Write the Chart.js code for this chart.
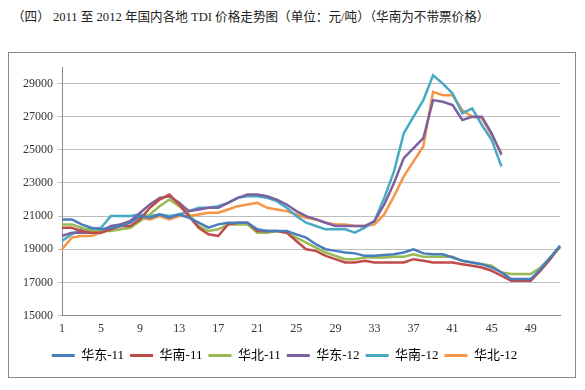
<!DOCTYPE html>
<html>
<head>
<meta charset="utf-8">
<script src="https://cdn.jsdelivr.net/npm/chart.js@4.4.1/dist/chart.umd.min.js"></script>
<style>
body{margin:0;background:#fff;width:585px;height:390px;position:relative;overflow:hidden;}
#title{position:absolute;left:12px;top:6px;font:12.6px 'Liberation Serif','Noto Sans CJK SC';color:#222;white-space:nowrap;}
#box{position:absolute;left:8px;top:52px;width:568px;height:326px;border:1px solid #8a8a8a;box-sizing:border-box;}
</style>
</head>
<body>
<div id="title">（四） 2011 至 2012 年国内各地 TDI 价格走势图（单位：元/吨）（华南为不带票价格）</div>
<div id="box"><canvas id="tdi" width="566" height="324"></canvas></div>
<script>
// 周次
const weeks = ['1','2','3','4','5','6','7','8','9','10','11','12','13','14','15','16','17','18','19','20',
  '21','22','23','24','25','26','27','28','29','30','31','32','33','34','35','36','37','38','39','40',
  '41','42','43','44','45','46','47','48','49','50','51','52'];
const yTicks = [15000, 17000, 19000, 21000, 23000, 25000, 27000, 29000];

// 2011
const east11 = [20800,20800,20500,20300,20200,20300,20400,20600,21000,20900,21100,20900,21100,20900,20600,20300,20500,20600,20600,20600,
  20200,20100,20100,20100,19900,19700,19300,19000,18900,18800,18750,18600,18600,18650,18700,18800,19000,18750,18700,18700,
  18500,18300,18200,18100,17900,17600,17200,17200,17200,17800,18500,19200];
const south11 = [20300,20300,20100,20000,20000,20200,20400,20400,20800,21500,22000,22300,21700,21000,20300,19900,19800,20500,20600,20600,
  20100,20100,20100,20000,19500,19000,18900,18600,18400,18200,18200,18300,18200,18200,18200,18200,18400,18300,18200,18200,
  18200,18100,18000,17900,17700,17400,17100,17100,17100,17700,18400,19200];
const north11 = [20500,20500,20300,20100,20100,20100,20200,20300,20700,21100,21600,22000,21600,21100,20400,20100,20200,20500,20500,20500,
  20000,20000,20100,20000,19700,19400,19100,18800,18600,18400,18400,18500,18500,18500,18550,18550,18700,18550,18550,18550,
  18550,18300,18200,18100,18000,17600,17500,17500,17500,17900,18500,19100];
// 2012
const east12 = [19800,20000,20000,20000,20100,20400,20500,20700,21200,21700,22100,22200,21800,21300,21400,21500,21500,21800,22100,22300,
  22300,22200,22000,21700,21300,21000,20800,20600,20400,20400,20400,20400,20700,21700,23000,24500,25100,25700,28000,27900,
  27700,26800,27000,27000,26000,24700];
const south12 = [19500,19900,20200,20200,20300,21000,21000,21000,21100,21000,21100,21000,21100,21300,21500,21500,21600,21800,22100,22200,
  22200,22100,21900,21500,21000,20600,20400,20200,20200,20200,20000,20300,20700,22100,23700,26000,27000,28000,29500,29000,
  28400,27200,27500,26500,25600,24000];
const north12 = [19000,19700,19800,19800,20000,20300,20500,20700,20900,20800,21000,20800,21000,21000,21100,21200,21200,21400,21600,21700,
  21800,21500,21400,21300,21100,20900,20800,20600,20500,20500,20400,20400,20500,21100,22200,23400,24300,25200,28500,28300,
  28300,27400,27000,26900,25900,24800];

const serif = "'Liberation Serif','Noto Sans CJK SC'";

function line(label, data, color) {
  return { label: label, data: data, borderColor: color, backgroundColor: color,
    borderWidth: 2.5, pointRadius: 0, tension: 0, fill: false };
}

const ctx = document.getElementById('tdi').getContext('2d');
const tdiChart = new Chart(ctx, {
  type: 'line',
  data: {
    labels: weeks,
    datasets: [
      line('华东-11', east11, '#4A7EBB'),
      line('华南-11', south11, '#BE4B48'),
      line('华北-11', north11, '#98B954'),
      line('华东-12', east12, '#7D60A0'),
      line('华南-12', south12, '#46AAC5'),
      line('华北-12', north12, '#F69544')
    ]
  },
  options: {
    responsive: false,
    animation: false,
    layout: { padding: { left: 0, top: 14, right: 15, bottom: 5 } },
    plugins: {
      tooltip: { enabled: false },
      legend: {
        position: 'bottom',
        labels: {
          boxWidth: 23, boxHeight: 3, padding: 6,
          font: { family: serif, size: 13 }, color: '#333',
          generateLabels: chart => chart.data.datasets.map((ds, i) => ({
            text: ds.label, fillStyle: ds.borderColor, strokeStyle: ds.borderColor,
            lineWidth: 0, datasetIndex: i, hidden: false
          }))
        }
      }
    },
    scales: {
      x: {
        afterFit: s => { s.height = 27.5; },
        grid: { drawOnChartArea: false, drawTicks: false },
        border: { color: '#8a8a8a' },
        ticks: {
          autoSkip: false, maxRotation: 0, padding: 6,
          font: { family: serif, size: 12 }, color: '#333',
          callback: (v, i) => (i % 4 === 0 ? weeks[i] : '')
        }
      },
      y: {
        min: 15000, max: 30000,
        afterBuildTicks: s => { s.ticks = yTicks.map(v => ({ value: v })); },
        afterFit: s => { s.width = 53; },
        grid: { color: '#bdbdbd', tickLength: 4 },
        border: { color: '#8a8a8a' },
        ticks: { padding: 5, font: { family: serif, size: 12 }, color: '#333',
          callback: v => String(v) }
      }
    }
  }
});
</script>
</body>
</html>
